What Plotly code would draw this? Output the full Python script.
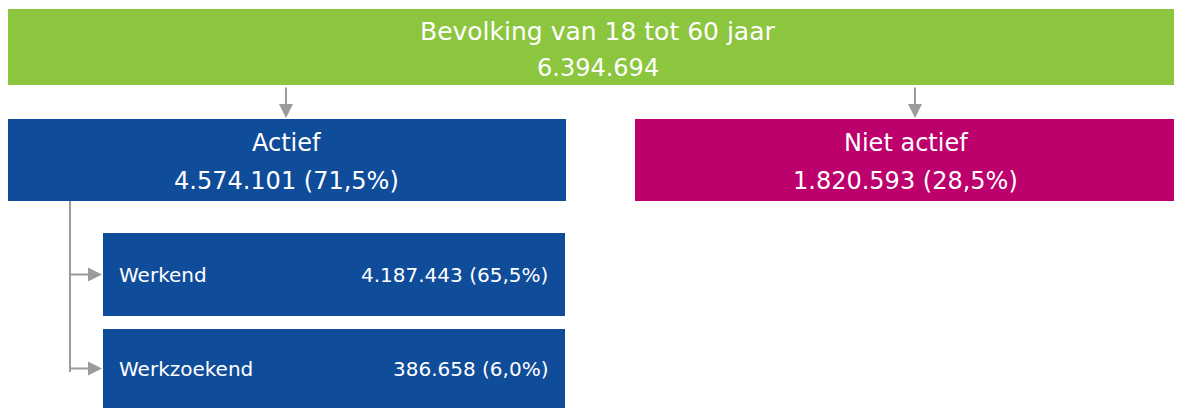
import plotly.graph_objects as go

# ---- data ----
total_label = "Bevolking van 18 tot 60 jaar"
total_value = 6394694
level1_labels = ["Actief", "Niet actief"]
level1_values = [4574101, 1820593]
level1_pct = [71.5, 28.5]
level2_labels = ["Werkend", "Werkzoekend"]
level2_values = [4187443, 386658]
level2_pct = [65.5, 6.0]

GREEN = "#8CC63F"
BLUE = "#0F4C9A"
MAGENTA = "#BC006C"
GRAY = "#9B9B9B"
FONT = "DejaVu Sans"


def fmt_num(v):
    return f"{v:,}".replace(",", ".")


def fmt_pct(p):
    return f"({p:.1f}%)".replace(".", ",")


W, H = 1182, 409
OFF = 8  # default page body margin
fig = go.Figure()
shapes = []
ann = []


def box(x0, y0, x1, y1, color):
    shapes.append(dict(type="rect", xref="x", yref="y", x0=x0, x1=x1, y0=y0, y1=y1,
                       fillcolor=color, line=dict(width=0), layer="below"))


def text(x, y, t, size, anchor="center"):
    ann.append(dict(x=x, y=y, xref="x", yref="y", text=t, showarrow=False,
                    xanchor=anchor, yanchor="middle",
                    font=dict(family=FONT, size=size, color="white")))


def arrow(x0, y0, x1, y1):
    ann.append(dict(x=x1, y=y1, ax=x0, ay=y0, xref="x", yref="y", axref="x", ayref="y",
                    text="", showarrow=True, arrowhead=2, arrowsize=1.4, arrowwidth=2,
                    arrowcolor=GRAY))


# top box
box(6, 9, 1176, 85, GREEN)
text(598, 31, total_label, 25)
text(598, 68, fmt_num(total_value), 24)

# level 1
l1_geo = [(6, 566, BLUE), (635, 1176, MAGENTA)]
arrow_x = [286, 915]
for (x0, x1, c), lab, v, p, ax in zip(l1_geo, level1_labels, level1_values, level1_pct, arrow_x):
    box(x0, 119, x1, 201, c)
    cx = (x0 + x1) / 2
    text(cx, 143, lab, 24)
    text(cx, 181, f"{fmt_num(v)} {fmt_pct(p)}", 24)
    arrow(ax, 86, ax, 118)

# level 2
l2_geo = [(233, 316), (329, 408)]
shapes.append(dict(type="line", xref="x", yref="y", x0=70, x1=70, y0=201, y1=372,
                   line=dict(color=GRAY, width=2)))
for (y0, y1), lab, v, p in zip(l2_geo, level2_labels, level2_values, level2_pct):
    box(103, y0, 565, y1, BLUE)
    cy = (y0 + y1) / 2
    text(117, cy, lab, 20, "left")
    text(550, cy, f"{fmt_num(v)} {fmt_pct(p)}", 20, "right")
    arrow(69, cy, 102, cy)

fig.update_layout(
    width=W - OFF, height=H - OFF, margin=dict(l=0, r=0, t=0, b=0),
    paper_bgcolor="white", plot_bgcolor="white",
    shapes=shapes, annotations=ann, showlegend=False,
    xaxis=dict(range=[OFF, W], visible=False, fixedrange=True),
    yaxis=dict(range=[H, OFF], visible=False, fixedrange=True),
)
fig.write_html("out.html", config={"displayModeBar": False})
